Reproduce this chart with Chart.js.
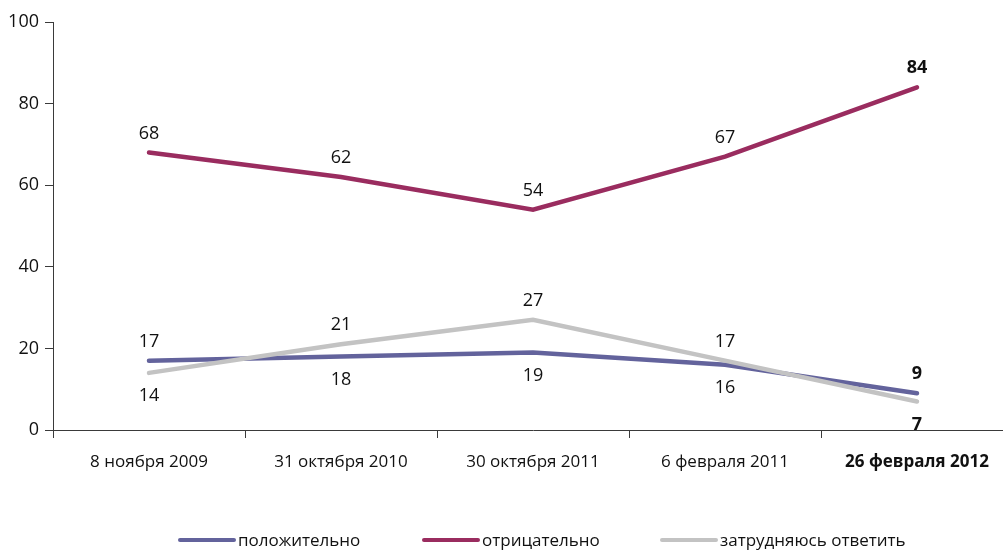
<!DOCTYPE html>
<html>
<head>
<meta charset="utf-8">
<script src="https://cdn.jsdelivr.net/npm/chart.js@4/dist/chart.umd.min.js"></script>
<style>
  html, body { margin: 0; padding: 0; background: #fff; overflow: hidden; }
  #wrap { width: 1020px; height: 553px; position: relative; }
</style>
</head>
<body>
<div id="wrap"><canvas id="chartCanvas"></canvas></div>
<script>
// data
const categories = ['8 ноября 2009', '31 октября 2010', '30 октября 2011', '6 февраля 2011', '26 февраля 2012'];
const positive = [17, 18, 19, 16, 9];
const negative = [68, 62, 54, 67, 84];
const undecided = [14, 21, 27, 17, 7];
const seriesNames = ['положительно', 'отрицательно', 'затрудняюсь ответить'];
const yTicks = [0, 20, 40, 60, 80, 100];

// label placement per point: -1 above, 1 below
const positivePlace = [-1, 1, 1, 1, -1];
const negativePlace = [-1, -1, -1, -1, -1];
const undecidedPlace = [1, -1, -1, -1, 1];

const colors = ['#63639c', '#9a2c5f', '#c3c3c3'];
const FONT = '"Open Sans", "DejaVu Sans Condensed", sans-serif';

// Draws value labels next to each point
const valueLabels = {
  id: 'valueLabels',
  afterDatasetsDraw(chart) {
    const ctx = chart.ctx;
    const places = [positivePlace, negativePlace, undecidedPlace];
    ctx.save();
    ctx.fillStyle = '#111';
    ctx.textAlign = 'center';
    ctx.textBaseline = 'middle';
    chart.data.datasets.forEach((ds, di) => {
      const meta = chart.getDatasetMeta(di);
      meta.data.forEach((pt, i) => {
        const last = i === ds.data.length - 1;
        ctx.font = (last ? 'bold ' : '') + '18px ' + FONT;
        const off = places[di][i] < 0 ? -19 : 23;
        ctx.fillText(String(ds.data[i]), pt.x, pt.y + off);
      });
    });
    ctx.restore();
  }
};

// Legend at the bottom, line sample then text
const bottomLegend = {
  id: 'bottomLegend',
  afterDraw(chart) {
    const ctx = chart.ctx;
    const starts = [178, 422, 660];
    ctx.save();
    ctx.font = '17px ' + FONT;
    ctx.textBaseline = 'middle';
    ctx.textAlign = 'left';
    ctx.lineCap = 'round';
    seriesNames.forEach((name, i) => {
      const x = starts[i];
      ctx.strokeStyle = colors[i];
      ctx.lineWidth = 4;
      ctx.beginPath();
      ctx.moveTo(x + 2, 540);
      ctx.lineTo(x + 56, 540);
      ctx.stroke();
      ctx.fillStyle = '#111';
      ctx.fillText(name, x + 60, 541);
    });
    ctx.restore();
  }
};

const ctx = document.getElementById('chartCanvas').getContext('2d');
new Chart(ctx, {
  type: 'line',
  data: {
    labels: categories,
    datasets: [positive, negative, undecided].map((d, i) => ({
      label: seriesNames[i],
      data: d,
      borderColor: colors[i],
      backgroundColor: colors[i],
      borderWidth: 4.5,
      pointRadius: 0,
      tension: 0,
      borderCapStyle: 'round',
      order: i === 2 ? 0 : 1
    }))
  },
  options: {
    responsive: true,
    maintainAspectRatio: false,
    animation: false,
    layout: { padding: { top: 22, right: 7, left: 0, bottom: 63 } },
    plugins: { legend: { display: false }, tooltip: { enabled: false } },
    scales: {
      x: {
        offset: true,
        afterFit: (s) => { s.height = 60; },
        border: { color: '#3a3a3a', width: 1 },
        grid: { offset: true, drawOnChartArea: false, tickLength: 8, color: '#3a3a3a' },
        ticks: {
          padding: 14,
          color: '#111',
          font: (c) => ({ family: FONT, size: 17, weight: c.index === categories.length - 1 ? 'bold' : 'normal' })
        }
      },
      y: {
        min: 0,
        max: 100,
        afterFit: (s) => { s.width = 53; },
        afterBuildTicks: (s) => { s.ticks = yTicks.map((v) => ({ value: v })); },
        border: { color: '#3a3a3a', width: 1 },
        grid: { drawOnChartArea: false, tickLength: 8, color: '#3a3a3a' },
        ticks: { padding: 6, color: '#111', font: { family: FONT, size: 18 } }
      }
    }
  },
  plugins: [valueLabels, bottomLegend]
});
</script>
</body>
</html>
